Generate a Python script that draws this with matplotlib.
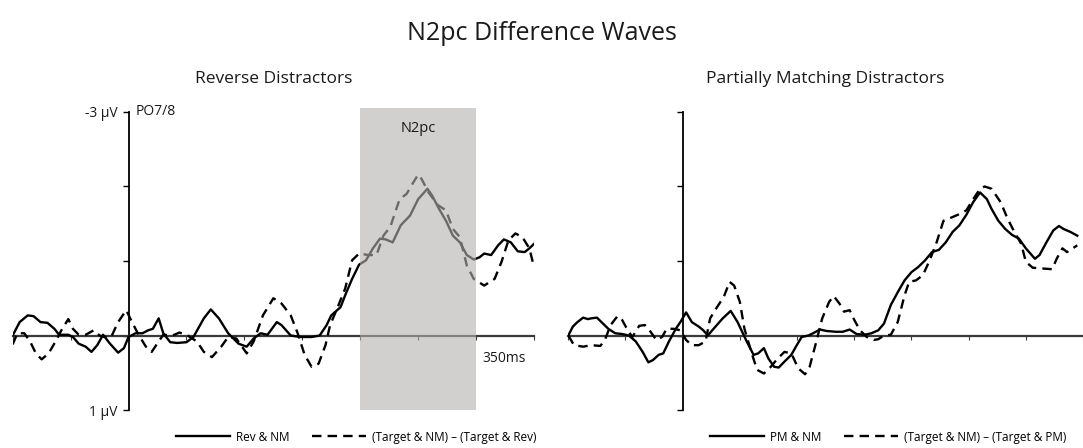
import matplotlib
matplotlib.use("Agg")
import matplotlib.pyplot as plt
from matplotlib.patches import Rectangle

plt.rcParams["font.family"] = ["Open Sans", "DejaVu Sans"]

# ---- data (ms, µV) ----
rev_t = [-100, -94, -87, -82, -76, -70, -64, -60, -52, -48, -43, -37, -32, -27, -22, -16, -9, -4, 0, 6,
         12, 17, 21, 26, 30, 36, 42, 50, 56, 65, 71, 78, 86, 95, 102, 108, 114, 120, 128, 132,
         140, 148, 158, 165, 171, 175, 183, 187, 193, 199, 205, 211, 217, 222, 228, 235, 243, 250, 258, 262,
         268, 274, 280, 286, 292, 298, 303, 307, 313, 319, 324, 330, 336, 342, 346, 350]
rev_nm = [0.00, -0.18, -0.27, -0.26, -0.18, -0.17, -0.09, -0.01, -0.01, 0.02, 0.11, 0.15, 0.22, 0.13, -0.01, 0.11, 0.23, 0.17, 0.02, -0.03,
          -0.03, -0.07, -0.09, -0.23, -0.03, 0.09, 0.10, 0.09, 0.02, -0.23, -0.35, -0.23, -0.03, 0.11, 0.15, 0.04, -0.03, -0.01, -0.18, -0.14,
          0.00, 0.02, 0.02, 0.00, -0.14, -0.27, -0.38, -0.54, -0.76, -0.95, -1.01, -1.17, -1.30, -1.29, -1.25, -1.48, -1.61, -1.83, -1.97, -1.88,
          -1.70, -1.54, -1.34, -1.25, -1.08, -1.02, -1.05, -1.10, -1.08, -1.21, -1.29, -1.25, -1.13, -1.12, -1.17, -1.23]

rev_diff_t = [-100, -96, -90, -85, -80, -75, -69, -63, -58, -52, -48, -43, -37, -30, -25, -21, -15, -9, -2, 3,
              9, 15, 20, 26, 30, 38, 44, 51, 59, 65, 72, 80, 86, 93, 102, 108, 116, 125, 132, 140,
              146, 152, 158, 164, 170, 174, 180, 187, 193, 199, 207, 214, 220, 226, 234, 240, 246, 250, 253, 259,
              267, 274, 280, 286, 292, 298, 307, 316, 322, 328, 334, 340, 346, 350]
rev_diff = [0.12, -0.03, -0.03, 0.08, 0.24, 0.32, 0.24, 0.08, -0.07, -0.22, -0.09, -0.01, -0.01, -0.07, 0.00, 0.02, 0.02, -0.18, -0.34, -0.18,
            0.00, 0.15, 0.22, 0.08, -0.01, 0.00, -0.04, 0.00, 0.08, 0.22, 0.29, 0.15, 0.02, 0.04, 0.24, 0.08, -0.27, -0.50, -0.43, -0.27,
            -0.03, 0.26, 0.42, 0.38, 0.13, -0.14, -0.36, -0.63, -1.01, -1.10, -1.08, -1.08, -1.34, -1.46, -1.83, -1.90, -2.06, -2.16, -2.10, -1.92,
            -1.75, -1.68, -1.43, -1.32, -0.94, -0.76, -0.67, -0.76, -0.99, -1.28, -1.37, -1.32, -1.17, -0.92]

pm_t = [-100, -96, -92, -87, -83, -80, -75, -71, -65, -59, -53, -47, -41, -35, -30, -26, -21, -17, -12, -6,
        -2, 3, 8, 14, 18, 22, 27, 35, 42, 48, 56, 62, 66, 71, 75, 80, 84, 89, 95, 99,
        104, 110, 114, 120, 126, 134, 140, 146, 152, 159, 165, 171, 176, 182, 188, 194, 200, 206, 212, 218,
        224, 230, 236, 242, 248, 254, 260, 266, 270, 276, 282, 288, 294, 300, 308, 312, 318, 324, 329, 333,
        339, 345]
pm_nm = [0.00, -0.12, -0.18, -0.24, -0.22, -0.23, -0.24, -0.18, -0.09, -0.03, -0.02, 0.00, 0.08, 0.22, 0.36, 0.33, 0.26, 0.24, 0.08, -0.09,
         -0.18, -0.31, -0.18, -0.12, -0.07, 0.00, -0.09, -0.23, -0.33, -0.18, 0.08, 0.26, 0.24, 0.17, 0.31, 0.42, 0.43, 0.35, 0.26, 0.15,
         0.02, 0.00, -0.03, -0.08, -0.06, -0.05, -0.05, -0.08, -0.02, -0.01, -0.03, -0.07, -0.16, -0.41, -0.58, -0.74, -0.85, -0.92, -1.01, -1.12,
         -1.15, -1.25, -1.39, -1.48, -1.62, -1.79, -1.92, -1.83, -1.70, -1.54, -1.43, -1.35, -1.30, -1.17, -1.03, -1.08, -1.25, -1.41, -1.47, -1.43,
         -1.39, -1.34]

pm_diff_t = [-100, -95, -87, -80, -72, -68, -63, -57, -53, -48, -44, -38, -33, -29, -23, -18, -14, -8, -2, 3,
             8, 14, 20, 24, 30, 36, 41, 45, 50, 54, 60, 65, 71, 77, 83, 89, 95, 101, 107, 111,
             116, 122, 128, 132, 137, 141, 146, 150, 155, 161, 167, 171, 176, 182, 188, 194, 198, 204, 210, 216,
             222, 228, 236, 242, 248, 254, 260, 264, 270, 278, 284, 290, 296, 300, 306, 314, 323, 327, 332, 336,
             345]
pm_diff = [0.00, 0.13, 0.15, 0.13, 0.14, 0.06, -0.14, -0.26, -0.21, -0.07, 0.02, -0.13, -0.14, -0.07, 0.06, 0.02, -0.09, -0.09, -0.07, 0.06,
           0.13, 0.13, 0.08, -0.23, -0.38, -0.52, -0.72, -0.67, -0.45, -0.09, 0.22, 0.46, 0.51, 0.42, 0.31, 0.22, 0.24, 0.44, 0.52, 0.42,
           0.13, -0.23, -0.45, -0.53, -0.43, -0.32, -0.34, -0.21, -0.07, 0.02, 0.06, 0.05, 0.00, -0.01, -0.18, -0.54, -0.72, -0.74, -0.81, -1.01,
           -1.25, -1.54, -1.59, -1.63, -1.68, -1.83, -1.97, -2.00, -1.97, -1.79, -1.57, -1.39, -1.23, -0.99, -0.91, -0.90, -0.89, -1.03, -1.17, -1.12,
           -1.21]

x_ticks = [-100, -50, 0, 50, 100, 150, 200, 250, 300, 350]
y_ticks = [-3, -2, -1, 0, 1]
y_labels = ["-3 µV", "", "", "", "1 µV"]
n2pc_window = (200, 300)

W, H = 1083, 448
fig = plt.figure(figsize=(W / 100, H / 100), dpi=100)

DASH = (0, (4, 2.6))
LEG = dict(loc="center", bbox_transform=fig.transFigure, ncol=2, frameon=False,
           fontsize=8.5, handlelength=4.6, handletextpad=0.5, columnspacing=1.9)


def panel(rect, xmax):
    ax = fig.add_axes(rect)
    ax.set_xlim(-100, xmax)
    ax.set_ylim(1, -3)
    for s in ("top", "right"):
        ax.spines[s].set_visible(False)
    ax.spines["left"].set_position(("data", 0))
    ax.spines["bottom"].set_position(("data", 0))
    ax.spines["left"].set_linewidth(1.3)
    ax.spines["bottom"].set_linewidth(1.6)
    ax.spines["bottom"].set_color("#3a3a3a")
    ax.set_xticks(x_ticks)
    ax.set_xticklabels([])
    ax.set_yticks(y_ticks)
    ax.tick_params(axis="x", direction="out", length=3, width=0.8, color="#3a3a3a")
    ax.tick_params(axis="y", direction="out", length=4, width=1.0, pad=4,
                   labelsize=10, labelcolor="#1a1a1a")
    ax.patch.set_alpha(0)
    return ax


# left panel
ax1 = panel([12.7 / W, 38 / H, 521.3 / W, 298 / H], 350)
ax1.set_yticklabels(y_labels)
l1, = ax1.plot(rev_t, rev_nm, color="black", lw=1.7, zorder=3)
l2, = ax1.plot(rev_diff_t, rev_diff, color="black", lw=1.7, ls=DASH, zorder=3)
ax1.add_patch(Rectangle((n2pc_window[0], -3.05), n2pc_window[1] - n2pc_window[0], 4.05,
                        facecolor="#b5b2af", alpha=0.6, edgecolor="none", zorder=5, clip_on=False))
ax1.text(250, -2.78, "N2pc", ha="center", va="center", fontsize=10.5, color="#1a1a1a", zorder=6)
ax1.text(6, -3.0, "PO7/8", ha="left", va="center", fontsize=10, color="#1a1a1a")
ax1.text(343, 0.31, "350ms", ha="right", va="center", fontsize=10, color="#1a1a1a")
ax1.set_title("Reverse Distractors", fontsize=12.5, color="#1a1a1a", pad=21)
ax1.legend([l1, l2], ["Rev & NM", "(Target & NM) \u2013 (Target & Rev)"],
           bbox_to_anchor=(356 / W, 1 - 437 / H), **LEG)

# right panel
ax2 = panel([568.3 / W, 38 / H, (W - 568.3) / W, 298 / H], 344.5)
ax2.set_yticklabels([])
r1, = ax2.plot(pm_t, pm_nm, color="black", lw=1.7, zorder=3)
r2, = ax2.plot(pm_diff_t, pm_diff, color="black", lw=1.7, ls=DASH, zorder=3)
ax2.set_title("Partially Matching Distractors", fontsize=12.5, color="#1a1a1a", pad=21)
ax2.legend([r1, r2], ["PM & NM", "(Target & NM) \u2013 (Target & PM)"],
           bbox_to_anchor=(888 / W, 1 - 437 / H), **LEG)

fig.text(0.5, 1 - 33 / H, "N2pc Difference Waves", ha="center", va="center",
         fontsize=18, color="#1a1a1a")

fig.savefig("out.png", dpi=100)
